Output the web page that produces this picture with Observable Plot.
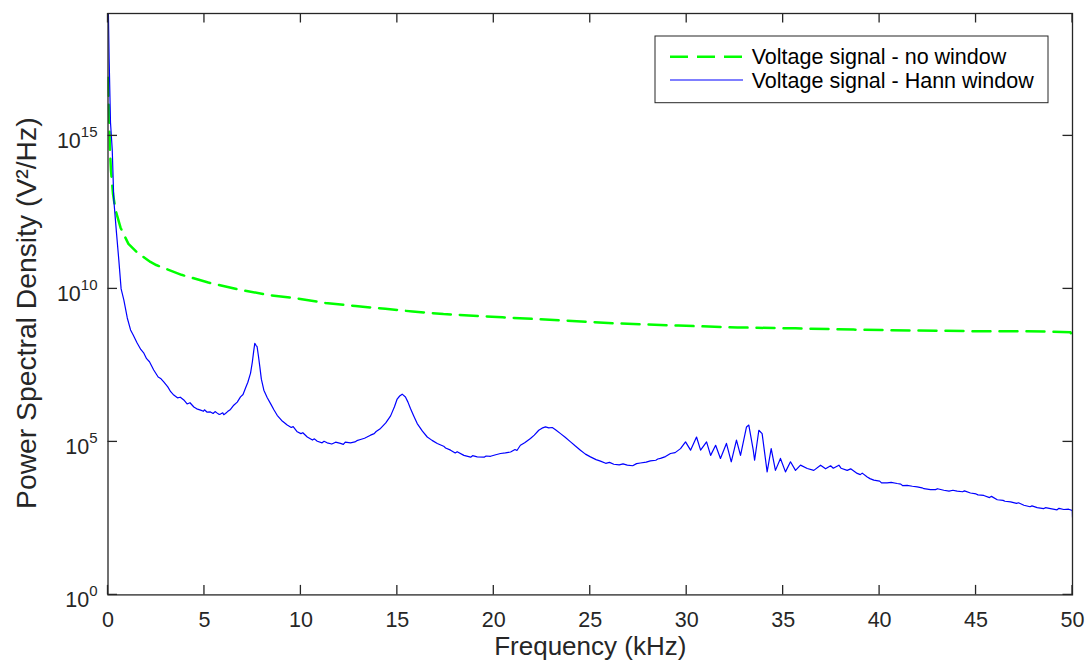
<!DOCTYPE html>
<html><head><meta charset="utf-8">
<script src="https://cdn.jsdelivr.net/npm/d3@7"></script>
<script src="https://cdn.jsdelivr.net/npm/@observablehq/plot@0.6"></script>
<style>body{margin:0;background:#fff} svg{display:block}</style>
</head><body><div id="chart"></div>
<script>
// Series names
const seriesNames = ["Voltage signal - no window", "Voltage signal - Hann window"];
// Axis ticks
const xTicks = [0, 5, 10, 15, 20, 25, 30, 35, 40, 45, 50];
const yTicks = [1e0, 1e5, 1e10, 1e15];

// No window: [frequency (kHz), log10 PSD (V^2/Hz)]
const noWindowPoints = [
  [0, 16.9], [0.03, 16.2], [0.06, 15.6], [0.1, 14.6], [0.15, 13.9], [0.26, 13.1], [0.39, 12.58],
  [0.65, 12.0], [1.06, 11.47], [1.53, 11.18], [2.2, 10.88], [2.5, 10.78], [3.81, 10.46], [5.2, 10.21],
  [6.77, 9.98], [8.32, 9.80], [9.77, 9.69], [11.27, 9.54], [12.83, 9.44], [14.38, 9.35], [15.79, 9.26],
  [17.39, 9.18], [20.45, 9.07], [23.51, 8.97], [26.47, 8.87], [29.57, 8.80], [32.63, 8.74], [35.64, 8.71],
  [38.65, 8.67], [41.76, 8.64], [44.77, 8.62], [48.6, 8.61], [49.9, 8.58], [50, 8.35]
];

// Hann window: [frequency (kHz), log10 PSD (V^2/Hz)]
const hannPoints = [
  [0, 19.8], [0.06, 17.5], [0.13, 15.43], [0.22, 14.55], [0.30, 12.91], [0.44, 11.83], [0.56, 10.95],
  [0.68, 10.0], [0.82, 9.64], [1.0, 9.05], [1.17, 8.66], [1.3, 8.50], [1.51, 8.23], [1.7, 8.02],
  [1.86, 7.90], [2.0, 7.72], [2.15, 7.62], [2.37, 7.35], [2.6, 7.12], [2.75, 7.06], [2.89, 6.96],
  [3.1, 6.80], [3.25, 6.64], [3.41, 6.53], [3.6, 6.44], [3.75, 6.46], [3.93, 6.37], [4.1, 6.24],
  [4.25, 6.28], [4.45, 6.14], [4.6, 6.08], [4.8, 6.04], [4.95, 6.00], [5.0, 6.05], [5.14, 5.97],
  [5.31, 5.98], [5.45, 5.93], [5.55, 5.99], [5.66, 5.94], [5.75, 5.90], [5.83, 5.91], [5.95, 5.95],
  [6.0, 5.89], [6.09, 5.93], [6.2, 5.99], [6.35, 6.06], [6.52, 6.20], [6.7, 6.30], [6.87, 6.47],
  [7.0, 6.55], [7.13, 6.76], [7.25, 6.95], [7.39, 7.25], [7.48, 7.60], [7.56, 8.0], [7.61, 8.22],
  [7.68, 8.15], [7.73, 8.11], [7.8, 7.80], [7.87, 7.46], [7.95, 7.05], [8.08, 6.69], [8.25, 6.45],
  [8.42, 6.26], [8.6, 6.05], [8.77, 5.87], [9.0, 5.70], [9.29, 5.55], [9.5, 5.47], [9.6, 5.50],
  [9.81, 5.33], [10.0, 5.27], [10.1, 5.30], [10.33, 5.16], [10.6, 5.06], [10.7, 5.10], [10.85, 5.02],
  [11.1, 4.97], [11.2, 5.02], [11.36, 4.97], [11.6, 4.93], [11.8, 4.99], [12.05, 4.95], [12.2, 4.92],
  [12.3, 4.99], [12.57, 4.97], [12.8, 5.00], [12.9, 5.04], [13.09, 5.08], [13.3, 5.12], [13.4, 5.15],
  [13.61, 5.22], [13.8, 5.27], [13.9, 5.34], [14.13, 5.44], [14.4, 5.62], [14.65, 5.85], [14.85, 6.15],
  [14.99, 6.40], [15.12, 6.50], [15.25, 6.56], [15.42, 6.47], [15.55, 6.30], [15.68, 6.09], [15.85, 5.85],
  [16.03, 5.60], [16.3, 5.35], [16.55, 5.16], [16.8, 5.05], [17.07, 4.95], [17.4, 4.86], [17.5, 4.80],
  [17.76, 4.73], [18.0, 4.64], [18.1, 4.68], [18.45, 4.56], [18.8, 4.50], [18.9, 4.55], [19.14, 4.51],
  [19.5, 4.50], [19.6, 4.54], [19.83, 4.53], [20.1, 4.58], [20.35, 4.62], [20.6, 4.64], [20.87, 4.67],
  [21.1, 4.75], [21.2, 4.72], [21.38, 4.89], [21.6, 4.97], [21.9, 5.11], [22.1, 5.22], [22.33, 5.38],
  [22.5, 5.45], [22.68, 5.49], [22.85, 5.46], [23.03, 5.47], [23.2, 5.40], [23.46, 5.27], [23.7, 5.15],
  [23.98, 5.00], [24.2, 4.88], [24.49, 4.73], [24.75, 4.60], [25.01, 4.51], [25.3, 4.42], [25.53, 4.37],
  [25.8, 4.30], [26.0, 4.33], [26.22, 4.27], [26.5, 4.25], [26.7, 4.28], [26.92, 4.24], [27.2, 4.22],
  [27.4, 4.29], [27.6, 4.31], [27.9, 4.34], [28.12, 4.38], [28.4, 4.40], [28.5, 4.44], [28.64, 4.46],
  [28.9, 4.52], [29.16, 4.62], [29.4, 4.65], [29.68, 4.78], [29.94, 5.00], [30.2, 4.73], [30.51, 5.16],
  [30.72, 4.73], [31.03, 5.0], [31.24, 4.56], [31.5, 4.89], [31.75, 4.46], [32.06, 4.95], [32.31, 4.35],
  [32.58, 5.06], [32.79, 4.56], [33.1, 5.49], [33.22, 5.55], [33.45, 4.73], [33.52, 4.40], [33.74, 5.38],
  [33.91, 5.27], [34.17, 4.02], [34.38, 4.78], [34.6, 4.07], [34.86, 4.46], [35.12, 4.02], [35.38, 4.35],
  [35.64, 4.07], [35.9, 4.24], [36.25, 4.13], [36.59, 4.07], [36.94, 4.24], [37.2, 4.12], [37.46, 4.22],
  [37.6, 4.14], [37.89, 4.24], [38.0, 4.14], [38.32, 4.07], [38.5, 4.12], [38.84, 3.97], [39.0, 3.93],
  [39.1, 3.98], [39.36, 3.85], [39.5, 3.80], [39.7, 3.75], [40.0, 3.72], [40.1, 3.66], [40.39, 3.66],
  [40.6, 3.68], [40.91, 3.64], [41.1, 3.62], [41.2, 3.57], [41.43, 3.58], [41.7, 3.55], [41.95, 3.53],
  [42.2, 3.50], [42.3, 3.47], [42.64, 3.44], [42.9, 3.44], [43.0, 3.47], [43.33, 3.42], [43.6, 3.39],
  [43.8, 3.42], [44.02, 3.39], [44.3, 3.37], [44.4, 3.40], [44.71, 3.33], [45.0, 3.30], [45.1, 3.27],
  [45.4, 3.25], [45.7, 3.18], [45.8, 3.22], [46.1, 3.11], [46.4, 3.09], [46.5, 3.06], [46.79, 3.04],
  [47.1, 2.99], [47.2, 3.01], [47.48, 2.93], [47.8, 2.88], [47.9, 2.91], [48.17, 2.85], [48.5, 2.82],
  [48.6, 2.85], [48.86, 2.82], [49.2, 2.78], [49.3, 2.83], [49.55, 2.79], [49.8, 2.80], [49.99, 2.76],
  [50, 2.54]
];

const noWin = noWindowPoints.map(([f, e]) => ({f, v: Math.pow(10, e)}));
const hann = hannPoints.map(([f, e]) => ({f, v: Math.pow(10, e)}));

const AXIS = "#262626";
const TL = 9.5; // tick length (px), drawn inward
const W = 1087, H = 660, ML = 107.5, MR = 15, MT = 13, MB = 65.6;

const svg = Plot.plot({
  width: W, height: H,
  marginLeft: ML, marginRight: MR, marginTop: MT, marginBottom: MB,
  style: {fontFamily: "'Liberation Sans', Arial, sans-serif", fontSize: "21.5px", color: AXIS, background: "#fff"},
  x: {domain: [0, 50]},
  y: {type: "log", domain: [1, 1e19]},
  marks: [
    Plot.line(noWin, {x: "f", y: "v", stroke: "#00ff00", strokeWidth: 2.5, strokeDasharray: "18,9", clip: true}),
    Plot.line(hann, {x: "f", y: "v", stroke: "#0000ff", strokeWidth: 1.2, clip: true}),
    Plot.frame({stroke: AXIS, strokeWidth: 1.3}),
    Plot.axisX({ticks: xTicks, tickSize: 0, tickPadding: 17, label: "Frequency (kHz)", labelAnchor: "center", labelArrow: "none", labelOffset: 60}),
    Plot.axisY({ticks: yTicks, tickSize: 0, tickPadding: 10.5, dy: 5.5, tickFormat: d => "10^" + Math.round(Math.log10(d)), label: "Power Spectral Density (V²/Hz)", labelAnchor: "center", labelArrow: "none", labelOffset: 92})
  ]
});

const sel = d3.select(svg);
// inward tick marks on all four sides, positioned with the plot's own scales
const xScale = svg.scale("x"), yScale = svg.scale("y");
const frameTop = MT, frameBottom = H - MB, frameLeft = ML, frameRight = W - MR;
const tg = sel.append("g").attr("stroke", AXIS).attr("stroke-width", 1.3);
xTicks.forEach(t => {
  const px = xScale.apply(t);
  tg.append("line").attr("x1", px).attr("x2", px).attr("y1", frameBottom).attr("y2", frameBottom - TL);
  tg.append("line").attr("x1", px).attr("x2", px).attr("y1", frameTop).attr("y2", frameTop + TL);
});
yTicks.forEach(t => {
  const py = yScale.apply(t);
  tg.append("line").attr("y1", py).attr("y2", py).attr("x1", frameLeft).attr("x2", frameLeft + TL);
  tg.append("line").attr("y1", py).attr("y2", py).attr("x1", frameRight).attr("x2", frameRight - TL);
});

// superscript exponents on y tick labels
sel.selectAll('g[aria-label="y-axis tick label"] text').each(function() {
  const m = /^10\^(\d+)$/.exec(this.textContent);
  if (m) {
    const el = d3.select(this);
    el.text("");
    el.append("tspan").text("10");
    el.append("tspan").attr("dy", "-11px").attr("font-size", "15px").text(m[1]);
  }
});
sel.selectAll('g[aria-label="x-axis label"] text').style("font-size", "26px");
sel.selectAll('g[aria-label="y-axis label"] text').style("font-size", "28.3px");
const yl = sel.select('g[aria-label="y-axis label"]');
yl.attr("transform", ((yl.attr("transform") || "") + " translate(0,9)").trim());

// legend
const lg = sel.append("g").attr("font-size", "21.5px").attr("fill", "#000").attr("text-anchor", "start");
lg.append("rect").attr("x", 655).attr("y", 36).attr("width", 393).attr("height", 66.7)
  .attr("fill", "#fff").attr("stroke", AXIS).attr("stroke-width", 1);
const legendStyles = [
  {stroke: "#00ff00", width: 2.5, dash: "18,9"},
  {stroke: "#0000ff", width: 1.2, dash: null}
];
seriesNames.forEach((name, i) => {
  const y = 56.7 + i * 23.3;
  const ln = lg.append("line").attr("x1", 670).attr("x2", 743).attr("y1", y).attr("y2", y)
    .attr("stroke", legendStyles[i].stroke).attr("stroke-width", legendStyles[i].width);
  if (legendStyles[i].dash) ln.attr("stroke-dasharray", legendStyles[i].dash);
  lg.append("text").attr("x", 751.7).attr("y", y).attr("dy", "0.35em").attr("text-anchor", "start").text(name);
});

document.getElementById("chart").appendChild(svg);
</script>
</body></html>
